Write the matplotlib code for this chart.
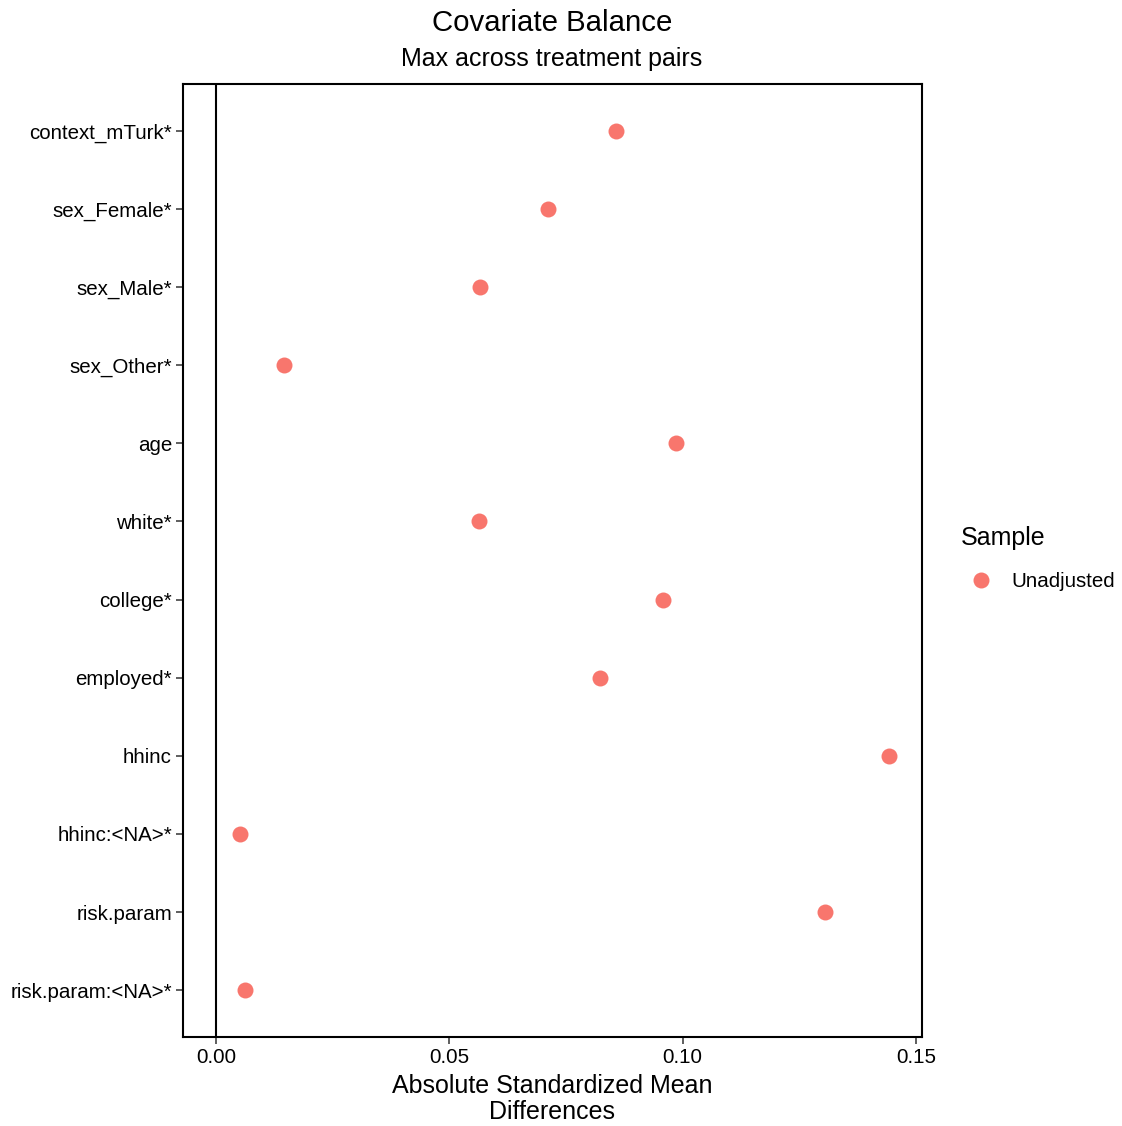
import matplotlib.pyplot as plt
import numpy as np

plt.rcParams['font.family'] = ['Liberation Sans', 'DejaVu Sans']

# covariates, top to bottom
covariates = ["context_mTurk*", "sex_Female*", "sex_Male*", "sex_Other*", "age",
              "white*", "college*", "employed*", "hhinc", "hhinc:<NA>*",
              "risk.param", "risk.param:<NA>*"]
unadjusted = [0.0857, 0.0711, 0.0566, 0.0146, 0.0986, 0.0564, 0.0958,
              0.0823, 0.1442, 0.0051, 0.1305, 0.0062]
x_ticks = [0.0, 0.05, 0.10, 0.15]
x_tick_labels = ["0.00", "0.05", "0.10", "0.15"]

fig = plt.figure(figsize=(11.22, 11.26), dpi=100)
ax = fig.add_axes([0.1631, 0.0790, 0.6586, 0.8464])

n = len(covariates)
ypos = np.arange(n)[::-1]

ax.axvline(0, color="black", lw=1.5, zorder=1)
ax.plot(unadjusted, ypos, "o", color="#F8766D", ms=11.5, mec="none",
        zorder=3, label="Unadjusted")

ax.set_xlim(-0.00707, 0.1513)
ax.set_ylim(-0.6, n - 1 + 0.6)
ax.set_yticks(ypos)
ax.set_yticklabels(covariates)
ax.set_xticks(x_ticks)
ax.set_xticklabels(x_tick_labels)
ax.tick_params(axis="both", direction="out", length=5, width=1.1,
               color="#333333", labelsize=14.8, labelcolor="black", pad=3)

for sp in ax.spines.values():
    sp.set_linewidth(1.5)
    sp.set_color("black")

ax.set_xlabel("Absolute Standardized Mean\nDifferences", fontsize=18,
              linespacing=1.1, labelpad=5)

fig.text(0.492, 0.980, "Covariate Balance", ha="center", va="center", fontsize=21.2)
fig.text(0.492, 0.948, "Max across treatment pairs", ha="center", va="center",
         fontsize=18)

leg = fig.legend(loc="upper left", bbox_to_anchor=(0.849, 0.54), frameon=False,
                 title="Sample", fontsize=14.8, title_fontsize=18,
                 handletextpad=0.45, labelspacing=1.05, borderaxespad=0)
leg._legend_box.align = "left"

fig.savefig("out.png", dpi=100)
